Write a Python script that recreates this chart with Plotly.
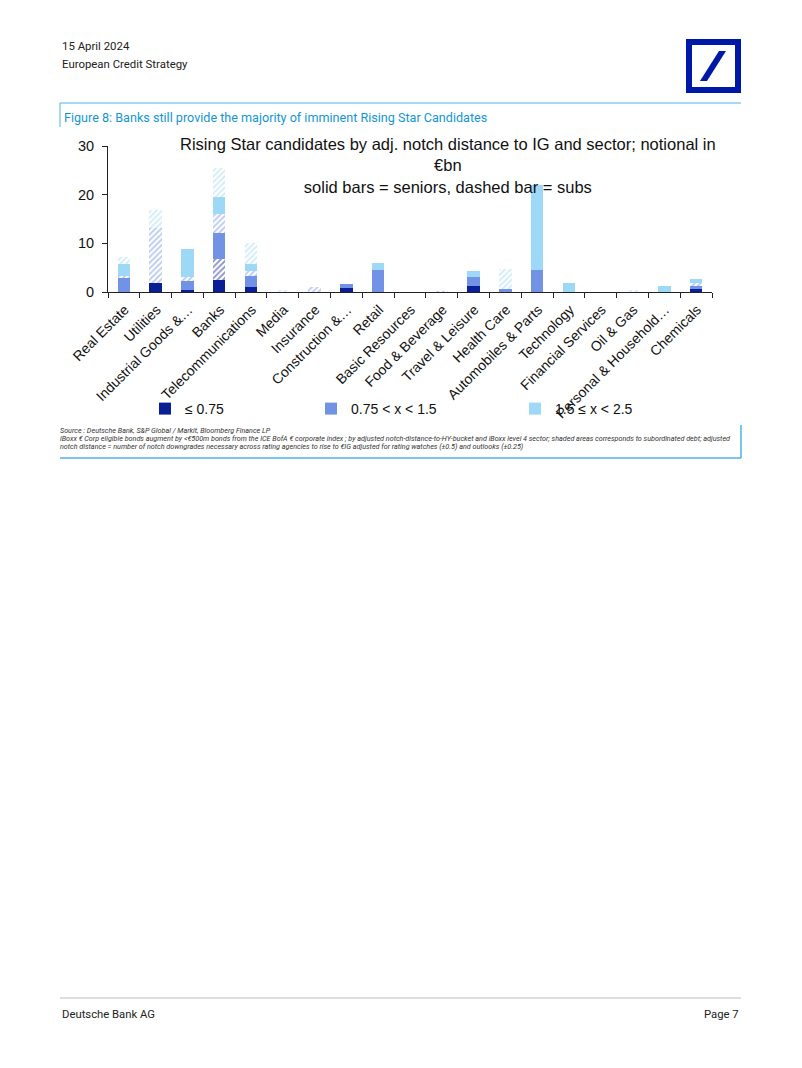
import plotly.graph_objects as go

categories = ["Real Estate", "Utilities", "Industrial Goods &…", "Banks", "Telecommunications",
              "Media", "Insurance", "Construction &…", "Retail", "Basic Resources",
              "Food & Beverage", "Travel & Leisure", "Health Care", "Automobiles & Parts",
              "Technology", "Financial Services", "Oil & Gas", "Personal & Household…", "Chemicals"]

low_senior  = [0, 1.8, 0.4, 2.55, 1.1, 0, 0, 0.8, 0, 0, 0, 1.2, 0, 0, 0, 0, 0, 0, 0.7]
low_sub     = [0, 0, 0, 4.3, 0, 0, 0, 0, 0, 0, 0, 0, 0, 0, 0, 0, 0, 0, 0]
mid_senior  = [2.9, 0, 1.9, 5.3, 2.2, 0, 0, 0.9, 4.6, 0, 0, 1.9, 0.6, 4.5, 0, 0, 0, 0, 0.5]
mid_sub     = [0.4, 11.3, 0.8, 3.8, 1.1, 0, 1.0, 0, 0, 0, 0.2, 0, 0, 0, 0, 0, 0, 0, 0.6]
high_senior = [2.4, 0, 5.7, 3.6, 1.3, 0, 0, 0, 1.3, 0, 0, 1.3, 0, 17.5, 1.9, 0, 0, 1.2, 0.8]
high_sub    = [1.4, 3.8, 0, 6.0, 4.3, 0.5, 0, 0, 0, 0, 0, 0, 4.2, 0, 0, 0, 0.3, 0, 0]

legend_names = ["≤ 0.75", "0.75 < x < 1.5", "1.5 ≤ x < 2.5"]
colors = ["#0A1E96", "#7292E6", "#9ED8F7"]
y_ticks = [0, 10, 20, 30]

OFF = 8  # page body margin
W, H = 802 - 2 * OFF, 1068 - 2 * OFF
L, R, T, B = 108, 712, 146, 292  # plot area in page pixels


def px(x):
    return (x - L) / (R - L)


def py(y):
    return (B - y) / (B - T)


fig = go.Figure()
series = [(low_senior, low_sub), (mid_senior, mid_sub), (high_senior, high_sub)]
legends = ["legend", "legend2", "legend3"]
for i, (sen, sub) in enumerate(series):
    fig.add_trace(go.Bar(x=categories, y=sen, name=legend_names[i], legend=legends[i],
                         marker=dict(color=colors[i], line=dict(width=0))))
    fig.add_trace(go.Bar(x=categories, y=sub, name=legend_names[i] + " subs", showlegend=False,
                         marker=dict(color=colors[i], line=dict(width=0),
                                     pattern=dict(shape="/", fgcolor=colors[i], bgcolor="white",
                                                  size=4, solidity=0.45))))

font_main = "Liberation Sans, Arial, sans-serif"
font_hdr = "Liberation Sans Narrow, Roboto, Liberation Sans, sans-serif"

leg_common = dict(orientation="h", font=dict(size=14, color="#111", family=font_main),
                  bgcolor="rgba(0,0,0,0)", xanchor="left", yanchor="middle",
                  itemwidth=30, tracegroupgap=0)
fig.update_layout(
    width=W, height=H,
    margin=dict(l=L - OFF, r=(OFF + W) - R, t=T - OFF, b=(OFF + H) - B, pad=0),
    paper_bgcolor="white", plot_bgcolor="white",
    barmode="stack", bargap=0.61,
    font=dict(family=font_main, color="#111"),
    legend=dict(x=px(145), y=py(409), **leg_common),
    legend2=dict(x=px(311), y=py(409), **leg_common),
    legend3=dict(x=px(515), y=py(409), **leg_common),
    xaxis=dict(showline=True, linecolor="#222", linewidth=1, ticks="outside", tickson="boundaries",
               ticklen=5, tickcolor="#222", tickangle=-45, tickfont=dict(size=14, color="#111"),
               ticklabelshift=1, ticklabelstandoff=3, showgrid=False, fixedrange=True),
    yaxis=dict(range=[0, 30], tickvals=y_ticks, showline=True, linecolor="#222", linewidth=1,
               ticks="outside", ticklen=5, tickcolor="#222", tickfont=dict(size=14.5, color="#111"),
               ticklabelstandoff=5, showgrid=False, zeroline=False, fixedrange=True),
)

# chart title inside plot
fig.add_annotation(x=px(448), y=py(165), xref="paper", yref="paper", showarrow=False,
                   text="Rising Star candidates by adj. notch distance to IG and sector; notional in<br>€bn<br>solid bars = seniors, dashed bar = subs",
                   font=dict(size=16.5, color="#111", family=font_main), align="center",
                   xanchor="center", yanchor="middle")

# header
fig.add_annotation(x=px(60), y=py(46), xref="paper", yref="paper", showarrow=False, xanchor="left",
                   yanchor="middle", text="15 April 2024", font=dict(size=11.4, family=font_hdr, color="#222"))
fig.add_annotation(x=px(60), y=py(64), xref="paper", yref="paper", showarrow=False, xanchor="left",
                   yanchor="middle", text="European Credit Strategy", font=dict(size=11.4, family=font_hdr, color="#222"))
fig.add_annotation(x=px(62), y=py(117), xref="paper", yref="paper", showarrow=False, xanchor="left",
                   yanchor="middle", text="Figure 8: Banks still provide the majority of imminent Rising Star Candidates",
                   font=dict(size=12.6, family=font_hdr, color="#1496D6"))

# source notes
notes = [
    "Source : Deutsche Bank, S&P Global / Markit, Bloomberg Finance LP",
    "iBoxx € Corp eligible bonds augment by <€500m bonds from the ICE BofA € corporate index ; by adjusted notch-distance-to-HY-bucket and iBoxx level 4 sector; shaded areas corresponds to subordinated debt; adjusted",
    "notch distance = number of notch downgrades necessary across rating agencies to rise to €IG adjusted for rating watches (±0.5) and outlooks (±0.25)",
]
for j, t in enumerate(notes):
    fig.add_annotation(x=px(58), y=py(430 + 8.3 * j), xref="paper", yref="paper", showarrow=False,
                       xanchor="left", yanchor="middle", text="<i>" + t + "</i>",
                       font=dict(size=7.2, family=font_hdr, color="#333"))

# footer
fig.add_annotation(x=px(60), y=py(1015), xref="paper", yref="paper", showarrow=False, xanchor="left",
                   yanchor="middle", text="Deutsche Bank AG", font=dict(size=11.3, family=font_hdr, color="#222"))
fig.add_annotation(x=px(741), y=py(1015), xref="paper", yref="paper", showarrow=False, xanchor="right",
                   yanchor="middle", text="Page 7", font=dict(size=11.3, family=font_hdr, color="#222"))

shapes = []
blue_line = "#4DB3E6"
shapes.append(dict(type="line", x0=px(60), x1=px(741), y0=py(103), y1=py(103), line=dict(color=blue_line, width=1)))
shapes.append(dict(type="line", x0=px(60), x1=px(60), y0=py(103), y1=py(127), line=dict(color=blue_line, width=1)))
shapes.append(dict(type="line", x0=px(741), x1=px(741), y0=py(425), y1=py(458), line=dict(color=blue_line, width=1.5)))
shapes.append(dict(type="line", x0=px(60), x1=px(741), y0=py(458), y1=py(458), line=dict(color=blue_line, width=1.5)))
shapes.append(dict(type="line", x0=px(60), x1=px(741), y0=py(998), y1=py(998), line=dict(color="#BBBBBB", width=1)))
shapes.append(dict(type="rect", x0=px(686), x1=px(741), y0=py(93), y1=py(39), fillcolor="#0018A8", line=dict(width=0)))
shapes.append(dict(type="rect", x0=px(692), x1=px(735), y0=py(87), y1=py(45), fillcolor="white", line=dict(width=0)))
slash = "M {} {} L {} {} L {} {} L {} {} Z".format(px(700), py(81), px(707), py(81), px(726), py(51), px(719), py(51))
shapes.append(dict(type="path", path=slash, fillcolor="#0018A8", line=dict(width=0)))
for s in shapes:
    s["xref"] = "paper"
    s["yref"] = "paper"
fig.update_layout(shapes=shapes)

fig.write_html("out.html")
